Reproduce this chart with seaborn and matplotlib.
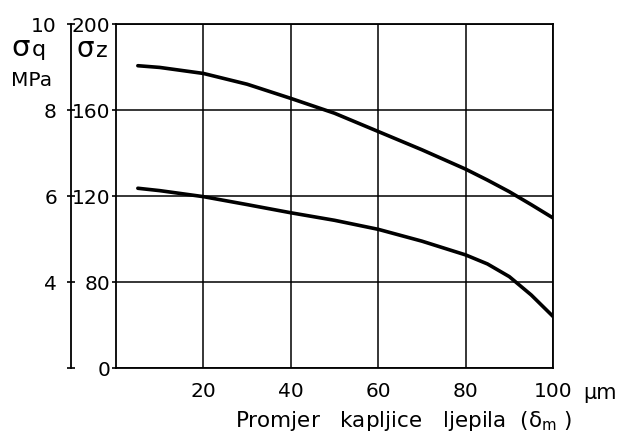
import numpy as np
import pandas as pd
import matplotlib
matplotlib.use("Agg")
import matplotlib.pyplot as plt
import seaborn as sns

# --- data ---
# promjer kapljice (um) and values on the sigma_z scale (MPa)
# NOTE: the lower part of the axis is broken, the "0" label sits where 40 would be
x_um = [5, 10, 20, 30, 40, 50, 60, 70, 80, 85, 90, 95, 100]
sigma_upper = [180.6, 179.8, 177, 172, 165.4, 158.5, 150, 141.5, 132.5, 127.4, 122, 116, 109.8]
sigma_lower = [123.6, 122.5, 119.7, 116, 112.2, 108.7, 104.5, 99, 92.6, 88.4, 82.5, 74, 64]

x_ticks = [20, 40, 60, 80, 100]
x_labels = ["20", "40", "60", "80", "100"]
y_ticks = [40, 80, 120, 160, 200]
z_labels = ["0", "80", "120", "160", "200"]
q_labels = ["", "4", "6", "8", "10"]

df = pd.DataFrame({
    "x": x_um * 2,
    "sigma": sigma_upper + sigma_lower,
    "curve": ["gornja"] * len(x_um) + ["donja"] * len(x_um),
})

# --- style ---
sns.set_style("white")
plt.rcParams["font.family"] = ["DejaVu Sans"]
plt.rcParams["mathtext.fontset"] = "dejavusans"
plt.rcParams["text.color"] = "black"
plt.rcParams["xtick.color"] = "black"
plt.rcParams["ytick.color"] = "black"
plt.rcParams["axes.labelcolor"] = "black"
FS = 14.5

fig = plt.figure(figsize=(6.25, 4.32), dpi=100)
ax = fig.add_axes([116 / 625, 1 - 368 / 432, 437 / 625, 344 / 432])

sns.lineplot(data=df, x="x", y="sigma", units="curve", estimator=None,
             color="black", lw=2.6, ax=ax, legend=False)

ax.set_xlim(0, 100)
ax.set_ylim(40, 200)
ax.set_xticks(x_ticks)
ax.set_xticklabels(x_labels, fontsize=FS)
ax.set_yticks(y_ticks)
ax.set_yticklabels(z_labels, fontsize=FS)
ax.tick_params(axis="x", length=0, pad=10)
ax.tick_params(axis="y", length=3, width=1.2, pad=1, direction="out", left=True)
ax.grid(True, color="black", lw=1.1)
for s in ax.spines.values():
    s.set_visible(True)
    s.set_color("black")
    s.set_linewidth(1.3)

ax.set_xlabel("Promjer   kapljice   ljepila  (δ$_{\\rm m}$ )", fontsize=15.5)
ax.xaxis.set_label_coords((404 - 116) / 437, (368 - 409) / 344)
ax.set_ylabel("")
ax.text(1.07, -0.045, "\u00b5m", transform=ax.transAxes, fontsize=15,
        ha="left", va="top")

# sigma_q scale on a separate line to the left
ax2 = ax.twinx()
ax2.set_ylim(ax.get_ylim())
for name in ["top", "right", "bottom"]:
    ax2.spines[name].set_visible(False)
ax2.spines["left"].set_visible(True)
ax2.spines["left"].set_position(("outward", 32.5))
ax2.spines["left"].set_linewidth(1.3)
ax2.spines["left"].set_color("black")
ax2.yaxis.set_ticks_position("left")
ax2.yaxis.set_label_position("left")
ax2.set_yticks(y_ticks)
ax2.set_yticklabels(q_labels, fontsize=FS)
ax2.tick_params(axis="y", direction="inout", length=6, width=1.2, pad=7)
ax2.grid(False)

# axis titles: big sigma + small index on one baseline
fig.text(11 / 625, 1 - 56 / 432, "σ", fontsize=21, ha="left", va="baseline")
fig.text(32 / 625, 1 - 56 / 432, "q", fontsize=16, ha="left", va="baseline")
fig.text(11 / 625, 1 - 80 / 432, "MPa", fontsize=FS, ha="left", va="center")
fig.text(77 / 625, 1 - 57 / 432, "σ", fontsize=20, ha="left", va="baseline")
fig.text(96 / 625, 1 - 57 / 432, "z", fontsize=16, ha="left", va="baseline")

fig.savefig("out.png", dpi=100)
